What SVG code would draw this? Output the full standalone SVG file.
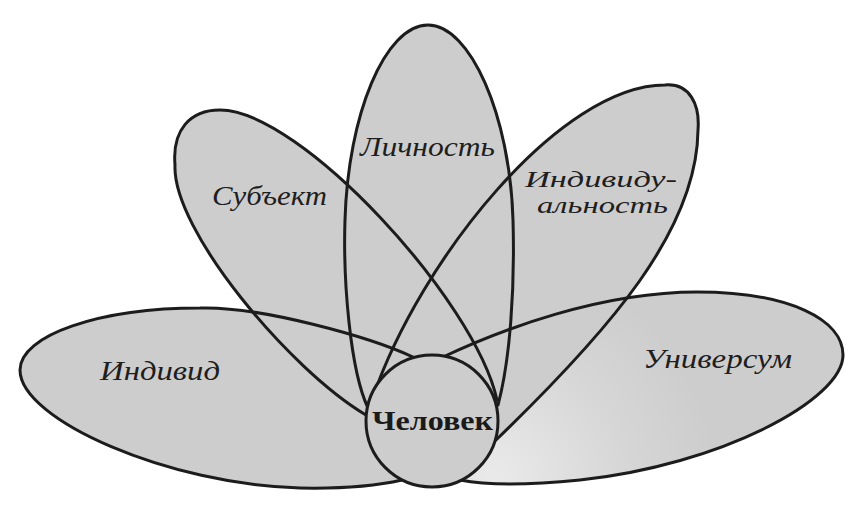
<svg xmlns="http://www.w3.org/2000/svg" xmlns:xlink="http://www.w3.org/1999/xlink" width="861" height="517" viewBox="0 0 861 517">
  <style>
    .fill { fill: #cdcdcd; stroke: none; }
    .outline { fill: none; stroke: #1c1c1c; stroke-width: 3; stroke-linejoin: round; stroke-linecap: round; }
    .label { font-family: "Liberation Serif", "Times New Roman", serif; font-style: italic; font-size: 27px; fill: #1e1e1e; }
    .label-sm { font-size: 24px; }
    .core { font-family: "Liberation Serif", "Times New Roman", serif; font-weight: bold; font-size: 28px; fill: #1a1a1a; }
  </style>
  <defs>
    <radialGradient id="uniGrad" gradientUnits="userSpaceOnUse" cx="495" cy="478" r="220">
      <stop offset="0" stop-color="#eaeaea"/>
      <stop offset="0.6" stop-color="#d6d6d6"/>
      <stop offset="1" stop-color="#cdcdcd"/>
    </radialGradient>
    <path id="p-universum" d="M 432 421 L 443 357 C 500 330, 600 292, 697 292 C 790 292, 843 320, 843 355 C 843 400, 720 465, 580 480 C 520 486, 480 484, 460 480 L 432 421 Z"/>
    <path id="p-individ" d="M 432 421 L 413 357 C 370 337, 260 306, 200 308 C 100 308, 20 335, 20 370 C 20 420, 170 485, 300 488 C 350 489, 380 485, 402 480 L 432 421 Z"/>
    <path id="p-subject" d="M 432 421 L 497 400 C 475 300, 300 110, 220 110 C 190 110, 172 130, 175 165 C 172 230, 290 370, 366 415 L 432 421 Z"/>
    <path id="p-individuality" d="M 432 421 L 373 397 C 420 260, 560 85, 665 85 C 690 83, 700 105, 698 130 C 697 230, 610 330, 496 440 L 432 421 Z"/>
    <path id="p-personality" d="M 432 421 L 368 408 C 350 370, 343 280, 345 220 C 348 115, 385 25, 428 25 C 470 25, 510 115, 513 220 C 515 290, 510 360, 498 405 L 432 421 Z"/>
  </defs>

  <rect x="0" y="0" width="861" height="517" fill="#ffffff"/>

  <g id="petal-fills">
    <use xlink:href="#p-universum" href="#p-universum" fill="url(#uniGrad)"/>
    <use xlink:href="#p-individ" href="#p-individ" class="fill"/>
    <use xlink:href="#p-subject" href="#p-subject" class="fill"/>
    <use xlink:href="#p-individuality" href="#p-individuality" class="fill"/>
    <use xlink:href="#p-personality" href="#p-personality" class="fill"/>
  </g>

  <g id="node-universum">
    <use xlink:href="#p-universum" href="#p-universum" class="outline"/>
    <text class="label" x="643" y="368" textLength="149" lengthAdjust="spacingAndGlyphs">Универсум</text>
  </g>
  <g id="node-individ">
    <use xlink:href="#p-individ" href="#p-individ" class="outline"/>
    <text class="label" x="100" y="380" textLength="120" lengthAdjust="spacingAndGlyphs">Индивид</text>
  </g>
  <g id="node-subject">
    <use xlink:href="#p-subject" href="#p-subject" class="outline"/>
    <text class="label" x="212" y="205" textLength="115" lengthAdjust="spacingAndGlyphs">Субъект</text>
  </g>
  <g id="node-individuality">
    <use xlink:href="#p-individuality" href="#p-individuality" class="outline"/>
    <text class="label label-sm" x="525" y="187" textLength="152" lengthAdjust="spacingAndGlyphs">Индивиду-</text>
    <text class="label label-sm" x="537" y="213" textLength="131" lengthAdjust="spacingAndGlyphs">альность</text>
  </g>
  <g id="node-personality">
    <use xlink:href="#p-personality" href="#p-personality" class="outline"/>
    <text class="label" x="360" y="156" textLength="135" lengthAdjust="spacingAndGlyphs">Личность</text>
  </g>

  <g id="node-chelovek">
    <circle cx="432" cy="421" r="66" fill="#cdcdcd" stroke="#1c1c1c" stroke-width="3"/>
    <text class="core" x="372" y="430" textLength="121" lengthAdjust="spacingAndGlyphs">Человек</text>
  </g>

  <g id="connectors"></g>
</svg>
